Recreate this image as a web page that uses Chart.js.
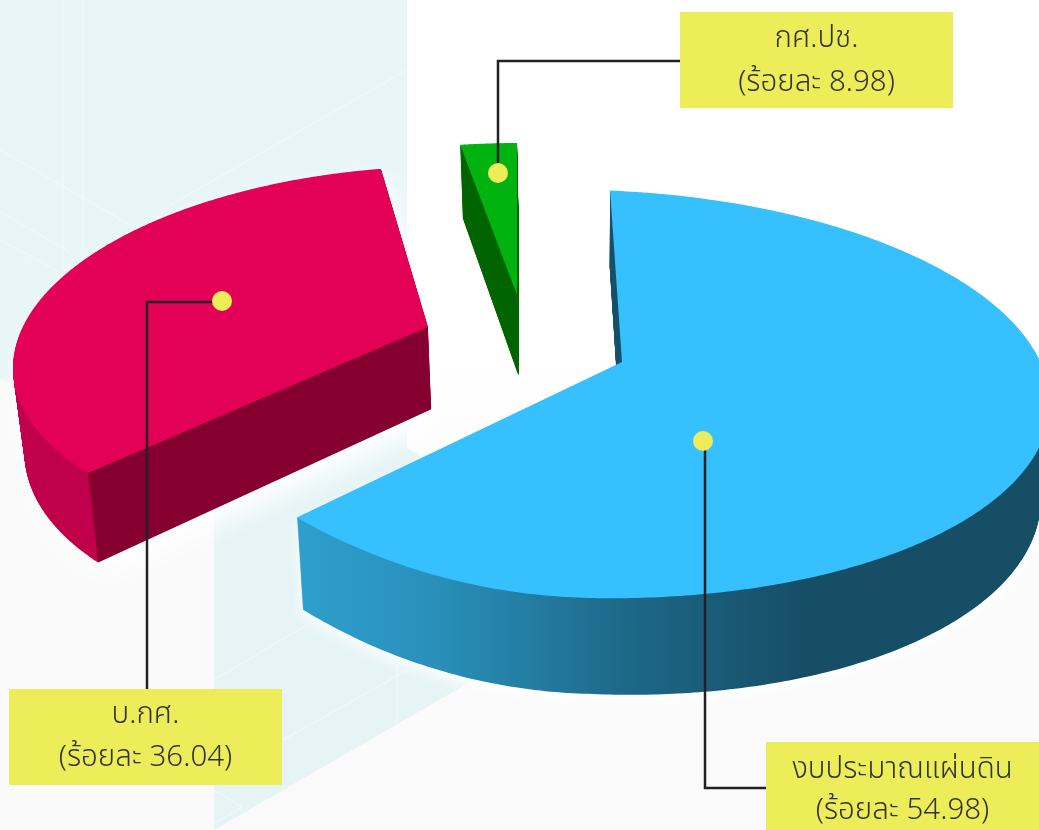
<!DOCTYPE html>
<html lang="th"><head><meta charset="utf-8">
<style>html,body{margin:0;padding:0;background:#fff;overflow:hidden}canvas{display:block}</style>
<script src="https://cdn.jsdelivr.net/npm/chart.js@4"></script></head>
<body><canvas id="c" width="1039" height="830"></canvas>
<script>
const categories = ['งบประมาณแผ่นดิน', 'บ.กศ.', 'กศ.ปช.'];
const shares = [54.98, 36.04, 8.98];
const sliceColors = ['#36c0fd', '#e30057', '#00b30f'];
const percentWord = 'ร้อยละ';

// Appearance of the tilted, exploded pie (not data)
const views = [
  {c:[590,394],a:460,b:204,tilt:.021,warp:.00032,apex:[622,362],from:2.5,to:219.6,glow:[0,6,14]},
  {c:[413,352],a:400,b:185,tilt:-.04,warp:0,apex:[428,327],from:234.3,to:355.4,glow:[8,14,26]},
  {c:[520,330],a:430,b:187,tilt:0,warp:0,apex:[517,295],from:-8,to:-.4,glow:[0,0,0]}
];
const callouts = [
  {box:[766,742,273,88],lines:[772,813],dot:[703,441],path:[[705,441],[705,788],[766,788]]},
  {box:[9,689,273,96],lines:[717,760],dot:[222,301],path:[[222,302],[147,302],[147,689]]},
  {box:[680,12,273,96],lines:[41,85],dot:[498,173],path:[[498,173],[498,61],[680,61]]}
];
const FONT = '300 29.5px "Noto Sans Thai","Noto Sans",sans-serif';

function rim(v,deg){
  const r=deg*Math.PI/180, dx=v.a*Math.sin(r);
  return [v.c[0]+dx, v.c[1]-v.b*Math.cos(r)+v.tilt*dx-(dx<0?v.warp*dx*dx:0)];
}
function drop(p,t){
  const d=66+.05*p[1]+Math.max(0,p[0]-590)*.02;
  return [p[0]+(590-p[0])*.02*t, p[1]+d*t];
}
function projector(target,el,v,t,fixedFill){
  return new Proxy(target,{
    get(o,k){
      if(k==='arc') return (x,y,r,a0,a1)=>{
        const span=el.endAngle-el.startAngle;
        for(let i=0;i<=160;i++){
          const ang=a0+(a1-a0)*i/160, u=(ang-el.startAngle)/span;
          const p=drop(rim(v,v.from+(v.to-v.from)*u),t);
          o.lineTo(p[0],p[1]);
        }
      };
      if(k==='lineTo'||k==='moveTo') return ()=>{const p=drop(v.apex,t);o.lineTo(p[0],p[1]);};
      const val=o[k];
      return typeof val==='function'?val.bind(o):val;
    },
    set(o,k,val){ if(k==='fillStyle'&&fixedFill) {o.fillStyle=fixedFill;} else {o[k]=val;} return true; }
  });
}
function paintWall(chart,el,i){
  const off=document.createElement('canvas');off.width=chart.width;off.height=chart.height;
  const g=off.getContext('2d'),v=views[i];
  for(let t=1;t>0;t-=.008) el.draw(projector(g,el,v,t,'#000'));
  g.globalCompositeOperation='source-atop';
  if(i===0){
    const lg=g.createLinearGradient(298,0,1039,0);
    [[0,'#2e9fcd'],[.18,'#2a90bb'],[.3,'#247fa4'],[.43,'#1e6a8a'],[.57,'#195a76'],[.68,'#164e66'],[1,'#164e66']]
      .forEach(s=>lg.addColorStop(s[0],s[1]));
    g.fillStyle=lg;g.fillRect(0,0,off.width,off.height);
    g.fillStyle='#14506a';g.fillRect(0,0,off.width,v.apex[1]+40);
  }else if(i===1){
    g.fillStyle='#85002f';g.fillRect(0,0,off.width,off.height);
    const a=rim(v,v.from),b=drop(a,1);
    g.fillStyle='#c1004c';g.beginPath();g.moveTo(0,a[1]-200);g.lineTo(a[0],a[1]-200);g.lineTo(a[0],a[1]);g.lineTo(b[0],b[1]);g.lineTo(b[0],830);g.lineTo(0,830);g.closePath();g.fill();
  }else{
    g.fillStyle='#006400';g.fillRect(0,0,off.width,off.height);
  }
  const c=chart.ctx;c.save();
  c.shadowColor='rgba(255,255,255,.95)';c.shadowOffsetX=v.glow[0];c.shadowOffsetY=v.glow[1];c.shadowBlur=v.glow[2];
  c.drawImage(off,0,0);c.restore();
}
function poly(c,pts,fill){c.fillStyle=fill;c.beginPath();pts.forEach((p,i)=>i?c.lineTo(p[0],p[1]):c.moveTo(p[0],p[1]));c.closePath();c.fill();}

const scene={
  id:'scene',
  beforeDraw(chart){
    const c=chart.ctx,W=chart.width,H=chart.height;
    c.save();
    const bg=c.createLinearGradient(0,0,0,H);bg.addColorStop(0,'#ffffff');bg.addColorStop(.4,'#ffffff');bg.addColorStop(.62,'#fcfcfc');bg.addColorStop(1,'#fafafb');
    c.fillStyle=bg;c.fillRect(0,0,W,H);
    poly(c,[[0,378],[214,500],[214,830],[0,830]],'#fafafb');
    poly(c,[[0,0],[407,0],[407,445],[214,500],[0,378]],'#e9f6f8');
    poly(c,[[214,500],[407,410],[407,448],[600,560],[600,607],[214,830]],'#e6f4f6');
    c.strokeStyle='rgba(255,255,255,.32)';c.lineWidth=1.5;
    [[[63,0],[63,270]],[[83,0],[83,250]],[[0,150],[130,225]],[[0,212],[70,252]],[[0,240],[60,272]],[[407,70],[170,205]],[[214,680],[310,623]],[[283,740],[413,667]],[[214,790],[242,807]],[[242,807],[214,824]],[[397,660],[397,760]]]
      .forEach(l=>{c.beginPath();c.moveTo(l[0][0],l[0][1]);c.lineTo(l[1][0],l[1][1]);c.stroke();});
    c.restore();
  },
  beforeDatasetDraw(chart){
    const arcs=chart.getDatasetMeta(0).data;
    arcs.forEach((el,i)=>paintWall(chart,el,i));
    arcs.forEach((el,i)=>el.draw(projector(chart.ctx,el,views[i],0)));
    return false;
  },
  afterDraw(chart){
    const c=chart.ctx;c.save();
    callouts.forEach((o,i)=>{
      c.strokeStyle='#222';c.lineWidth=2.5;c.lineJoin='miter';
      c.beginPath();o.path.forEach((p,k)=>k?c.lineTo(p[0],p[1]):c.moveTo(p[0],p[1]));c.stroke();
      c.fillStyle='#eded5a';c.beginPath();c.arc(o.dot[0],o.dot[1],10,0,Math.PI*2);c.fill();
      c.fillRect(o.box[0],o.box[1],o.box[2],o.box[3]);
      c.fillStyle='#333';c.font=FONT;c.textAlign='center';c.textBaseline='middle';
      const mid=o.box[0]+o.box[2]/2;
      c.fillText(categories[i],mid,o.lines[0]);
      c.fillText('('+percentWord+' '+shares[i].toFixed(2)+')',mid,o.lines[1]);
    });
    c.restore();
  }
};
new Chart(document.getElementById('c'),{
  type:'pie',
  data:{labels:categories,datasets:[{data:shares,backgroundColor:sliceColors,borderWidth:0}]},
  options:{responsive:false,animation:false,devicePixelRatio:1,events:[],
    plugins:{legend:{display:false},tooltip:{enabled:false}}},
  plugins:[scene]
});
</script></body></html>
